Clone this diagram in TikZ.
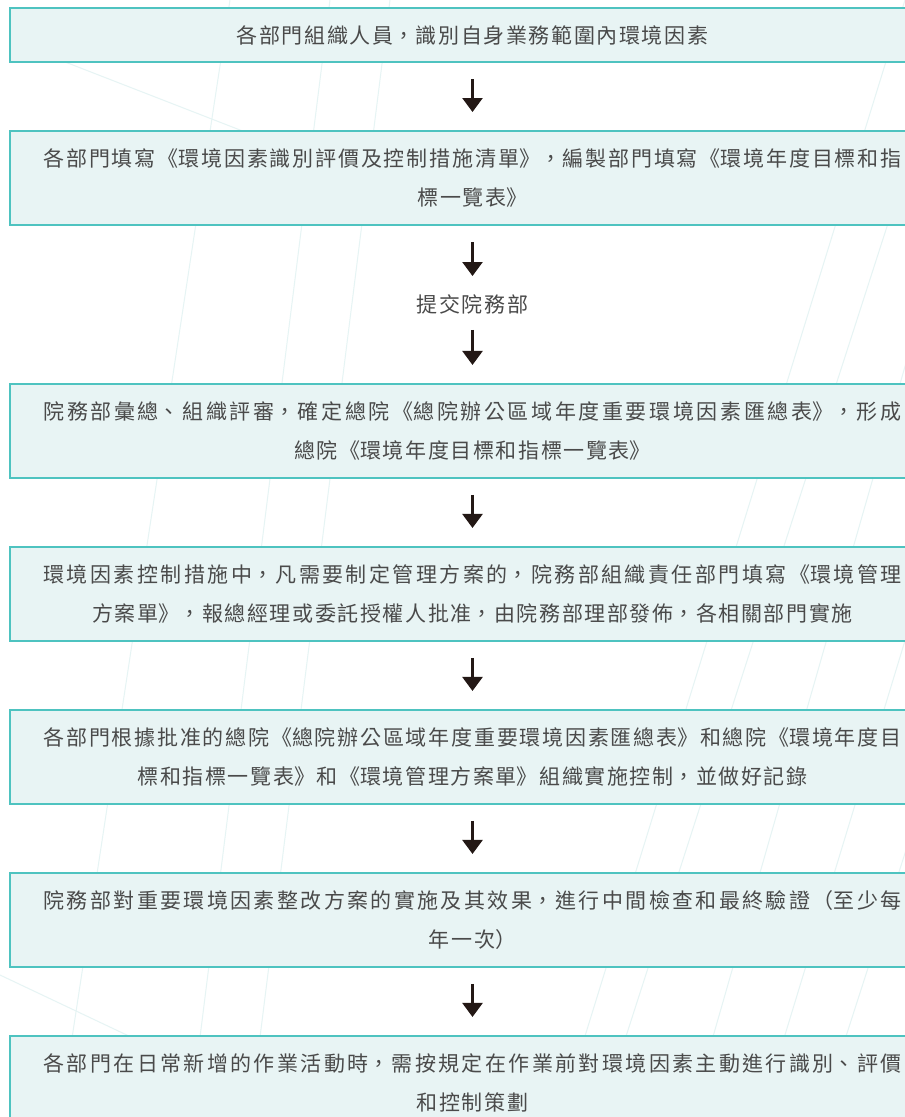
\documentclass[tikz,border=0pt]{standalone}
\usepackage{fontspec}
\setmainfont{Noto Sans CJK TC}
\usetikzlibrary{positioning,arrows.meta}

\XeTeXlinebreaklocale "zh"
\XeTeXlinebreakskip=1.6pt plus 3pt

\definecolor{boxfill}{HTML}{E8F4F4}
\definecolor{boxline}{HTML}{4EC3C0}
\definecolor{txtgray}{HTML}{4A4A4A}
\definecolor{arrowblk}{HTML}{231815}
\definecolor{bgline}{HTML}{E6F4F4}

% justified lines, last line centred
\newcommand{\midline}{\leftskip=0pt plus 1fil\rightskip=0pt plus -1fil\parfillskip=0pt plus 2fil\relax}

\begin{document}
\begin{tikzpicture}[
    x=1pt, y=1pt,
    node distance=67pt,
    every node/.style={font=\fontsize{21}{39}\selectfont, text=txtgray},
    stepbox/.style={draw=boxline, line width=2pt, fill=boxfill, minimum width=925pt, text width=858pt, inner xsep=33.5pt, inner ysep=16pt, minimum height=94pt, execute at begin node=\midline},
    flow/.style={draw=arrowblk, line width=2.5pt, -{Triangle[width=20pt,length=14pt]}, shorten <=16pt, shorten >=18pt}
]
\useasboundingbox (0,0) rectangle (905,-1117);
\fill[white] (0,0) rectangle (905,-1117);

% faint background lines
\foreach \a/\b in {60/230, 190/330, 250/390, 560/905, 600/960, 690/1010, 760/1100, 820/1180}
    \draw[bgline, line width=1pt] (\a,-1117) -- (\b,0);
\draw[bgline, line width=1pt] (0,-975) -- (300,-1117);
\draw[bgline, line width=1pt] (60,-60) -- (420,-200);

% steps
\node[stepbox, minimum height=54pt] (ident) at (472.5,-35) {各部門組織人員，識別自身業務範圍內環境因素};
\node[stepbox, below=of ident] (fill) {各部門填寫《環境因素識別評價及控制措施清單》，編製部門填寫《環境年度目標和指\linebreak 標一覽表》};
\node[below=68pt of fill, inner sep=0pt, text width=200pt, execute at begin node=\midline] (submit) {提交院務部};
\node[stepbox, below=69pt of submit] (review) {院務部彙總、組織評審，確定總院《總院辦公區域年度重要環境因素匯總表》，形成\linebreak 總院《環境年度目標和指標一覽表》};
\node[stepbox, below=of review] (plan) {環境因素控制措施中，凡需要制定管理方案的，院務部組織責任部門填寫《環境管理\linebreak 方案單》，報總經理或委託授權人批准，由院務部理部發佈，各相關部門實施};
\node[stepbox, below=of plan] (apply) {各部門根據批准的總院《總院辦公區域年度重要環境因素匯總表》和總院《環境年度目\linebreak 標和指標一覽表》和《環境管理方案單》組織實施控制，並做好記錄};
\node[stepbox, below=of apply] (check) {院務部對重要環境因素整改方案的實施及其效果，進行中間檢查和最終驗證（至少每\linebreak 年一次）};
\node[stepbox, below=of check] (newact) {各部門在日常新增的作業活動時，需按規定在作業前對環境因素主動進行識別、評價\linebreak 和控制策劃};

% arrows
\draw[flow] (ident) -- (fill);
\draw[flow] (fill) -- (submit);
\draw[flow] (submit) -- (review);
\draw[flow] (review) -- (plan);
\draw[flow] (plan) -- (apply);
\draw[flow] (apply) -- (check);
\draw[flow] (check) -- (newact);

\end{tikzpicture}
\end{document}
